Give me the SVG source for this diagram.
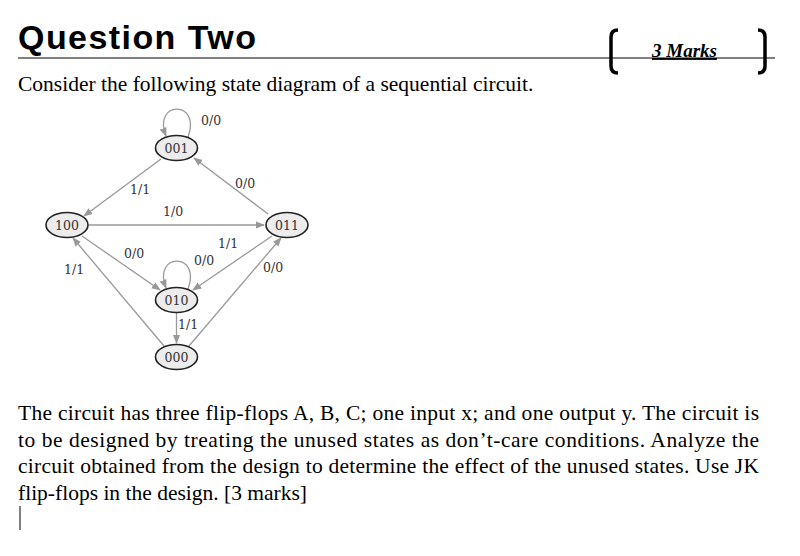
<svg xmlns="http://www.w3.org/2000/svg" width="800" height="556" viewBox="0 0 800 556">
<style>
.n ellipse{fill:#ececec;stroke:#222;stroke-width:1.6}
.n text{font-family:"DejaVu Serif",serif;font-size:12.5px;text-anchor:middle;fill:#333}
.e{fill:none;stroke:#999;stroke-width:1.3}
.l{font-family:"DejaVu Serif",serif;font-size:12.5px;fill:#333}
.t{font-family:"Liberation Serif",serif;font-size:21.5px;fill:#000}
</style>
<defs><marker id="a" viewBox="0 0 10 10" refX="9" refY="5" markerWidth="7" markerHeight="7" orient="auto"><path d="M0,1 L10,5 L0,9 z" fill="#999"/></marker></defs>
<rect width="800" height="556" fill="#fff"/>
<text x="18" y="49" font-family="Liberation Sans,sans-serif" font-weight="bold" font-size="34" textLength="238">Question Two</text>
<line x1="18" y1="58" x2="775" y2="58" stroke="#000" stroke-width="1"/>
<path d="M618,30 Q611,30 611,37 L611,66 Q611,73 618,73" fill="none" stroke="#000" stroke-width="3.5"/>
<path d="M758,30 Q765,30 765,37 L765,66 Q765,73 758,73" fill="none" stroke="#000" stroke-width="3.5"/>
<text x="652" y="57" font-family="Liberation Serif,serif" font-style="italic" font-weight="bold" font-size="19" text-decoration="underline">3 Marks</text>
<text x="18" y="91" class="t">Consider the following state diagram of a sequential circuit.</text>
<g id="edges">
<path class="e" d="M188,137 C202,100 152,100 166,136" marker-end="url(#a)"/>
<path class="e" d="M188,289 C202,252 152,252 166,288" marker-end="url(#a)"/>
<line class="e" x1="161" y1="159" x2="84" y2="216" marker-end="url(#a)"/>
<line class="e" x1="268" y1="214" x2="194" y2="158" marker-end="url(#a)"/>
<line class="e" x1="89" y1="225" x2="264" y2="225" marker-end="url(#a)"/>
<line class="e" x1="82" y1="236" x2="160" y2="290" marker-end="url(#a)"/>
<line class="e" x1="272" y1="236" x2="193" y2="290" marker-end="url(#a)"/>
<line class="e" x1="176.5" y1="313" x2="176.5" y2="343" marker-end="url(#a)"/>
<line class="e" x1="164" y1="346" x2="73" y2="238" marker-end="url(#a)"/>
<line class="e" x1="189" y1="346" x2="281" y2="238" marker-end="url(#a)"/>
<text class="l" x="201" y="125">0/0</text>
<text class="l" x="130" y="194">1/1</text>
<text class="l" x="163" y="216">1/0</text>
<text class="l" x="235" y="188">0/0</text>
<text class="l" x="124" y="258">0/0</text>
<text class="l" x="218" y="248">1/1</text>
<text class="l" x="194" y="265">0/0</text>
<text class="l" x="64" y="274">1/1</text>
<text class="l" x="263" y="272">0/0</text>
<text class="l" x="178" y="329">1/1</text>
</g>
<g id="n001" class="n"><ellipse cx="176.5" cy="148" rx="21" ry="12.5"/><text x="176.5" y="152.5">001</text></g>
<g id="n100" class="n"><ellipse cx="67" cy="225" rx="21" ry="12.5"/><text x="67" y="229.5">100</text></g>
<g id="n011" class="n"><ellipse cx="287" cy="225" rx="21" ry="12.5"/><text x="287" y="229.5">011</text></g>
<g id="n010" class="n"><ellipse cx="176.5" cy="300" rx="21" ry="12.5"/><text x="176.5" y="304.5">010</text></g>
<g id="n000" class="n"><ellipse cx="176.5" cy="357" rx="21" ry="12.5"/><text x="176.5" y="361.5">000</text></g>
<text class="t" x="18" y="420" textLength="741">The circuit has three flip-flops A, B, C; one input x; and one output y. The circuit is</text>
<text class="t" x="18" y="447" textLength="741">to be designed by treating the unused states as don’t-care conditions. Analyze the</text>
<text class="t" x="18" y="473" textLength="741">circuit obtained from the design to determine the effect of the unused states. Use JK</text>
<text class="t" x="18" y="500">flip-flops in the design. [3 marks]</text>
<line x1="20" y1="506" x2="20" y2="530" stroke="#000"/>
</svg>
